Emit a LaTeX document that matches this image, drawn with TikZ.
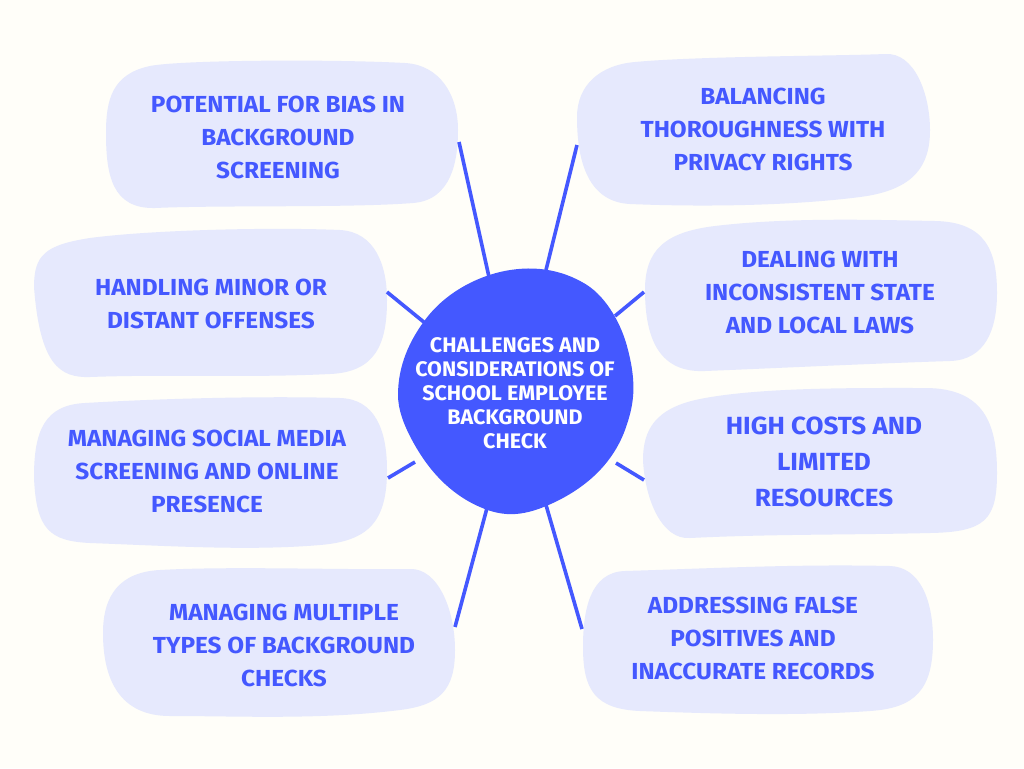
\documentclass[tikz,border=0pt]{standalone}
\usepackage{fontspec}
\newfontfamily\lblfont[FakeStretch=1.05]{Fira Sans}
\newfontfamily\hubfont[FakeStretch=1.02]{Fira Sans}
\definecolor{pagebg}{HTML}{FFFEF9}
\definecolor{blobfill}{HTML}{E6E9FD}
\definecolor{mainblue}{HTML}{4458FF}
\tikzset{
  blob/.style={fill=blobfill,draw=none},
  hub/.style={fill=mainblue,draw=none},
  spoke/.style={draw=mainblue,line width=2.7pt},
  lbl/.style={text=mainblue,align=center,inner sep=0pt,font=\lblfont\bfseries\fontsize{17.4}{24.75}\selectfont},
  lblbig/.style={text=mainblue,align=center,inner sep=0pt,font=\lblfont\bfseries\fontsize{18.6}{27}\selectfont},
  hublbl/.style={text=white,align=center,inner sep=0pt,font=\hubfont\bfseries\fontsize{15.8}{18}\selectfont},
}
\begin{document}
\begin{tikzpicture}[x=0.75pt,y=-0.75pt]
\useasboundingbox (0,0) rectangle (1024,768);
\fill[pagebg] (0,0) rectangle (1024,768);
% blobs
\draw[blob] (106,133) .. controls (106,100) and (112,74) .. (150,66) .. controls (180,60) and (330,59) .. (405,63) .. controls (440,65) and (458,95) .. (458,130) .. controls (458,160) and (452,200) .. (413,203) .. controls (350,208) and (220,205) .. (155,208) .. controls (112,209) and (106,175) .. cycle;
\draw[blob] (577,117) .. controls (577,85) and (600,65) .. (635,62) .. controls (700,56) and (840,56) .. (885,54) .. controls (915,52) and (930,95) .. (930,130) .. controls (930,165) and (915,190) .. (860,197) .. controls (790,206) and (700,207) .. (630,204) .. controls (590,202) and (577,165) .. cycle;
\draw[blob] (645,290) .. controls (645,250) and (665,232) .. (715,226) .. controls (790,217) and (880,220) .. (935,221) .. controls (985,222) and (997,250) .. (997,293) .. controls (997,330) and (985,360) .. (950,361) .. controls (860,364) and (780,368) .. (705,371) .. controls (660,373) and (645,340) .. cycle;
\draw[blob] (643,460) .. controls (643,430) and (655,408) .. (700,399) .. controls (760,387) and (860,388) .. (925,388) .. controls (985,388) and (997,425) .. (997,473) .. controls (997,520) and (985,532) .. (930,533) .. controls (850,535) and (770,534) .. (690,538) .. controls (662,540) and (645,500) .. cycle;
\draw[blob] (583,647) .. controls (583,610) and (590,572) .. (625,571) .. controls (720,568) and (800,564) .. (890,566) .. controls (920,567) and (933,600) .. (933,640) .. controls (933,690) and (915,708) .. (870,711) .. controls (800,716) and (720,714) .. (640,711) .. controls (595,709) and (583,690) .. cycle;
\draw[blob] (34,287) .. controls (34,255) and (45,245) .. (90,238) .. controls (150,230) and (270,227) .. (340,230) .. controls (375,232) and (387,265) .. (387,300) .. controls (387,345) and (375,372) .. (330,374) .. controls (250,378) and (170,374) .. (90,377) .. controls (60,378) and (40,365) .. cycle;
\draw[blob] (34,477) .. controls (34,430) and (45,405) .. (85,403) .. controls (170,398) and (270,396) .. (340,398) .. controls (375,399) and (387,430) .. (387,470) .. controls (387,520) and (370,541) .. (320,545) .. controls (250,551) and (170,546) .. (90,543) .. controls (50,541) and (36,530) .. cycle;
\draw[blob] (103,633) .. controls (103,595) and (120,572) .. (160,570) .. controls (230,566) and (340,570) .. (410,569) .. controls (438,568) and (455,610) .. (455,650) .. controls (455,690) and (440,705) .. (400,710) .. controls (320,720) and (240,716) .. (170,716) .. controls (120,716) and (103,680) .. cycle;
% spokes
\coordinate (a1) at (459,142); \coordinate (b1) at (489,277);
\coordinate (a2) at (577,145); \coordinate (b2) at (546,270);
\coordinate (a3) at (644,292); \coordinate (b3) at (615,316);
\coordinate (a4) at (644,480); \coordinate (b4) at (616,463);
\coordinate (a5) at (582,629); \coordinate (b5) at (546,505);
\coordinate (a6) at (387,292); \coordinate (b6) at (425,323);
\coordinate (a7) at (388,478); \coordinate (b7) at (415,462);
\coordinate (a8) at (455,627); \coordinate (b8) at (487,508);
\foreach \i in {1,...,8} \draw[spoke] (a\i) -- (b\i);
% hub
\draw[hub] (398,395) .. controls (398,365) and (410,340) .. (425,320) .. controls (445,293) and (475,278) .. (500,272) .. controls (530,265) and (560,268) .. (587,285) .. controls (607,298) and (622,325) .. (628,350) .. controls (637,385) and (634,405) .. (625,430) .. controls (612,465) and (585,488) .. (553,503) .. controls (525,516) and (505,518) .. (480,507) .. controls (450,494) and (428,470) .. (412,440) .. controls (404,425) and (398,410) .. cycle;
% labels
\node[hublbl] (hubtext) at (515,393) {CHALLENGES AND\\CONSIDERATIONS OF\\SCHOOL EMPLOYEE\\BACKGROUND\\CHECK};
\node[lbl] (t1) at (278,137) {POTENTIAL FOR BIAS IN\\BACKGROUND\\SCREENING};
\node[lbl] (t2) at (763,129) {BALANCING\\THOROUGHNESS WITH\\PRIVACY RIGHTS};
\node[lbl] (t3) at (820,292) {DEALING WITH\\INCONSISTENT STATE\\AND LOCAL LAWS};
\node[lblbig] (t4) at (824,462) {HIGH COSTS AND\\LIMITED\\RESOURCES};
\node[lbl] (t5) at (753,638) {ADDRESSING FALSE\\POSITIVES AND\\INACCURATE RECORDS};
\node[lbl] (t6) at (211,304) {HANDLING MINOR OR\\DISTANT OFFENSES};
\node[lbl] (t7) at (207,471) {MANAGING SOCIAL MEDIA\\SCREENING AND ONLINE\\PRESENCE};
\node[lbl] (t8) at (284,645) {MANAGING MULTIPLE\\TYPES OF BACKGROUND\\CHECKS};
\end{tikzpicture}
\end{document}
